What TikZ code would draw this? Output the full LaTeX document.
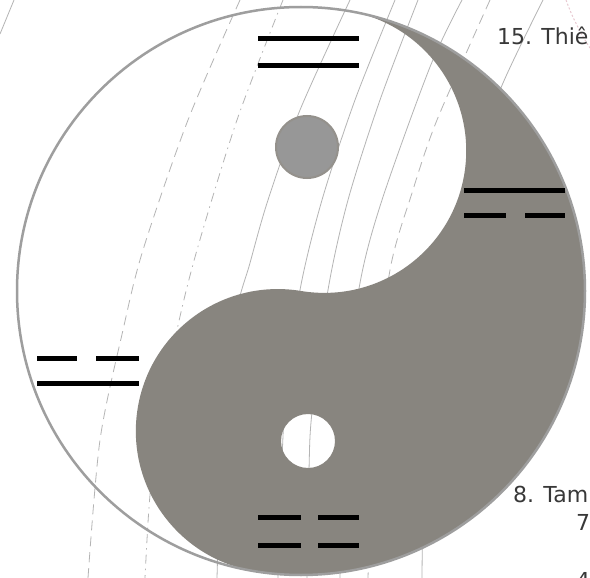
\documentclass[tikz,border=0pt]{standalone}
\usepackage{fontspec}
\setmainfont{DejaVu Sans}
\definecolor{yin}{HTML}{88857F}
\definecolor{rim}{HTML}{9E9E9E}
\definecolor{guide}{HTML}{B4B4B4}
\definecolor{dotgray}{HTML}{979797}
\definecolor{txt}{HTML}{383838}
\definecolor{faintpink}{HTML}{E8C8D0}
\begin{document}
\begin{tikzpicture}[x=1pt,y=-1pt,
  guide/.style={draw=guide, line width=0.8pt},
  dashedguide/.style={guide, dash pattern=on 10pt off 6pt},
  dotdashguide/.style={guide, dash pattern=on 9pt off 5pt on 1.5pt off 5pt},
  bar/.style={line width=5pt, draw=black},
  lbl/.style={anchor=base west, inner sep=0pt, font=\fontsize{22}{26}\selectfont, text=txt}]
\useasboundingbox (0,0) rectangle (590,578);
\clip (0,0) rectangle (590,578);
\fill[white] (0,0) rectangle (590,578);
% background guide curves
\draw[guide] (14,0) -- (0,34);
\draw[dashedguide] plot[smooth] coordinates {(240,0) (188,120) (143,250) (123,330) (100,440) (88,578)};
\draw[dotdashguide] plot[smooth] coordinates {(283,0) (237,120) (197,250) (177,330) (160,420) (150,495) (145,578)};
\draw[guide] plot[smooth] coordinates {(350,0) (300,110) (268,200) (250,263) (235,320) (222,450) (217,578)};
\draw[guide] plot[smooth] coordinates {(395,0) (355,100) (322,200) (300,290) (285,400) (278,578)};
\draw[guide] plot[smooth] coordinates {(418,0) (380,100) (348,200) (328,290) (312,412) (309,470) (307,578)};
\draw[guide] plot[smooth] coordinates {(462,0) (430,67) (382,200) (360,283) (345,400) (340,578)};
\draw[dashedguide] plot[smooth] coordinates {(490,0) (437,120) (412,193) (390,270) (375,400) (368,578)};
\draw[guide] plot[smooth] coordinates {(543,0) (503,83) (470,170) (440,300) (425,450) (422,578)};
\draw[faintpink, line width=1pt, dash pattern=on 2pt off 2pt] plot[smooth] coordinates {(566,0) (572,15) (582,35) (590,48)};
% yin (grey) part with white eye
\fill[yin, even odd rule] (347.4,10.8)
  arc[start angle=-80.6, end angle=99.4, radius=284]
  arc[start angle=99.4, end angle=279.4, radius=142]
  arc[start angle=99.4, end angle=-80.6, radius=142] -- cycle
  (308,441) circle[radius=27];
% outer rim
\draw[rim, line width=2.5pt] (301,291) circle[radius=284];
% grey eye
\filldraw[fill=dotgray, draw=yin!90!white, line width=2pt] (307,147) circle[radius=31];
% trigrams
\draw[bar] (258,39) -- (359,39);
\draw[bar] (258,66) -- (359,66);
\draw[bar] (464,190) -- (565,190);
\draw[bar] (464,215) -- (506,215);
\draw[bar] (525,215) -- (565,215);
\draw[bar] (37,358) -- (77,358);
\draw[bar] (96,358) -- (139,358);
\draw[bar] (37,383) -- (139,383);
\draw[bar] (258,517) -- (301,517);
\draw[bar] (318,517) -- (359,517);
\draw[bar] (258,545) -- (301,545);
\draw[bar] (318,545) -- (359,545);
% labels
\node[lbl] (t15) at (497,45) {15. Thiê};
\node[lbl] (t8) at (513,502) {8. Tam};
\node[lbl] (t7) at (576,530) {7.};
\node[lbl] (t4) at (576,588) {4.};
\end{tikzpicture}
\end{document}
